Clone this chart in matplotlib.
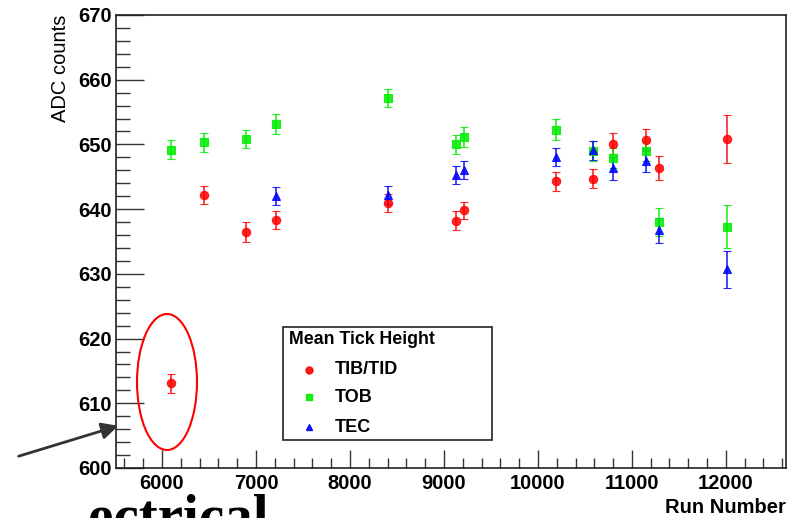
import numpy as np
import matplotlib.pyplot as plt
from matplotlib.patches import Ellipse, FancyArrowPatch
from matplotlib.ticker import MultipleLocator

# run numbers shared by the three partitions
runs = [6093, 6445, 6890, 7218, 8405, 9129, 9217, 10189, 10584, 10795, 11149, 11290, 12015]

tib_val = [613.1, 642.2, 636.5, 638.3, 641.0, 638.2, 639.8, 644.3, 644.7, 650.1, 650.7, 646.3, 650.8]
tib_err = [1.5, 1.45, 1.5, 1.35, 1.4, 1.45, 1.35, 1.45, 1.45, 1.6, 1.65, 1.85, 3.7]

tob_val = [649.2, 650.3, 650.9, 653.2, 657.2, 650.0, 651.2, 652.3, 649.0, 647.9, 649.0, 638.0, 637.3]
tob_err = [1.5, 1.45, 1.4, 1.55, 1.4, 1.5, 1.55, 1.6, 1.6, 1.5, 1.5, 2.2, 3.35]

tec_runs = runs[3:]
tec_val = [642.0, 642.2, 645.3, 646.0, 648.1, 649.1, 646.3, 647.5, 636.7, 630.7]
tec_err = [1.35, 1.35, 1.4, 1.4, 1.4, 1.5, 1.75, 1.8, 1.9, 2.9]

W, H = 787, 518
fig = plt.figure(figsize=(W / 100, H / 100), dpi=100)
fig.patch.set_facecolor('white')
plt.rcParams['font.family'] = ['Liberation Sans', 'DejaVu Sans']

# frame pixel box: left 116, right 786, top 15, bottom 468
ax = fig.add_axes([116 / W, 1 - 468 / H, 670 / W, 453 / H])

common = dict(linestyle='none', capsize=3.2, elinewidth=1.2, capthick=1.2,
              markeredgewidth=0.8, alpha=0.85)
ax.errorbar(runs, tib_val, yerr=tib_err, fmt='o', color='#ff0000', ms=6, **common)
ax.errorbar(runs, tob_val, yerr=tob_err, fmt='s', color='#00ee00', ms=5.5, **common)
ax.errorbar(tec_runs, tec_val, yerr=tec_err, fmt='^', color='#0000ff', ms=6, **common)

ax.set_xlim(5510, 12640)
ax.set_ylim(600, 670)

ax.xaxis.set_major_locator(MultipleLocator(1000))
ax.xaxis.set_minor_locator(MultipleLocator(200))
ax.yaxis.set_major_locator(MultipleLocator(10))
ax.yaxis.set_minor_locator(MultipleLocator(2))
ax.tick_params(which='both', direction='in', top=False, right=False, color='#333333', width=1)
ax.tick_params(axis='x', which='major', length=13, pad=4)
ax.tick_params(axis='x', which='minor', length=7)
ax.tick_params(axis='y', which='major', length=20, pad=3)
ax.tick_params(axis='y', which='minor', length=10)
for lab in ax.get_xticklabels() + ax.get_yticklabels():
    lab.set_fontsize(14.5)
    lab.set_fontweight('bold')
for s in ax.spines.values():
    s.set_linewidth(1.2)
    s.set_color('#222222')

ax.set_xlabel('Run Number', fontsize=14.5, fontweight='bold')
ax.xaxis.set_label_coords(1.0, -0.088)
ax.xaxis.label.set_horizontalalignment('right')
ax.xaxis.label.set_verticalalignment('center')
ax.set_ylabel('ADC counts', fontsize=14.5, fontweight='normal')
ax.yaxis.set_label_coords(-0.068, 1.0)
ax.yaxis.label.set_horizontalalignment('right')

# legend box drawn by hand in figure pixels
def fx(px):
    return px / W

def fy(py):
    return 1 - py / H

leg = plt.Rectangle((fx(283), fy(440)), fx(492) - fx(283), fy(327) - fy(440),
                    transform=fig.transFigure, fill=True, facecolor='white',
                    edgecolor='#222222', lw=1.2, zorder=5)
fig.patches.append(leg)
fig.text(fx(289), fy(339), 'Mean Tick Height', fontsize=12.8, fontweight='bold',
         va='center', ha='left', zorder=6)
entries = [('TIB/TID', 'o', '#ff0000'), ('TOB', 's', '#00ee00'), ('TEC', '^', '#0000ff')]
rows = [370, 397, 427]
for (name, mk, col), ry in zip(entries, rows):
    fig.lines.append(plt.Line2D([fx(309)], [fy(ry)], marker=mk, color=col, ms=5,
                                transform=fig.transFigure, zorder=6, alpha=0.9))
    fig.text(fx(335), fy(ry), name, fontsize=13, fontweight='bold',
             va='center', ha='left', zorder=6)

# red ellipse around the outlier
ell = Ellipse((fx(167), fy(382)), fx(60), 136 / H, transform=fig.transFigure,
              fill=False, edgecolor='#ff0000', lw=1.5, zorder=6)
fig.patches.append(ell)

# arrow from outside pointing at the axis
fig.patches.append(FancyArrowPatch(
    (fx(16), fy(457)), (fx(121), fy(425)), transform=fig.transFigure,
    arrowstyle='-|>,head_length=10,head_width=5', color='#333333', lw=2, zorder=6))

# cut-off slide text at the bottom
fig.text(fx(88), fy(533), 'ectrical', family=['Liberation Serif', 'DejaVu Serif'],
         fontsize=41, fontweight='bold', ha='left', va='baseline', zorder=7)

fig.savefig('out.png', dpi=100, facecolor='white')
